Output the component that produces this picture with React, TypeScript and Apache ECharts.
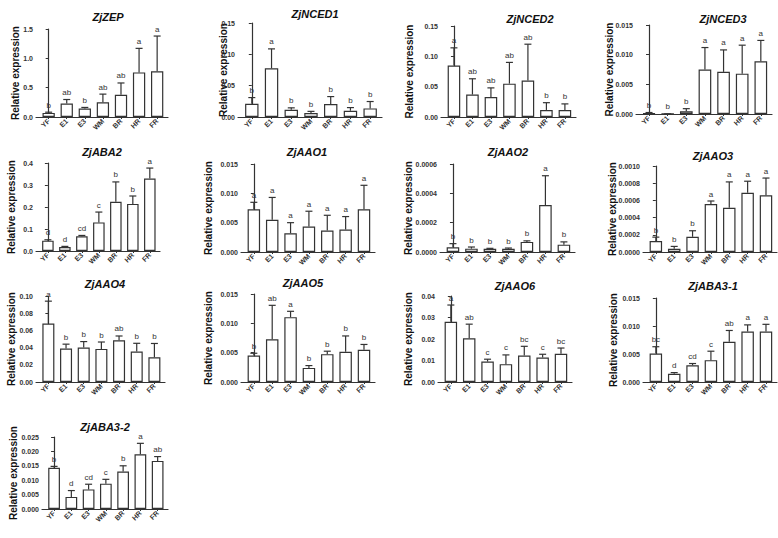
import React, { useEffect, useRef } from "react";
import * as echarts from "echarts";

const categories = ["YF", "E1", "E3", "WM", "BR", "HR", "FR"];

const genes = [
  "ZjZEP", "ZjNCED1", "ZjNCED2", "ZjNCED3",
  "ZjABA2", "ZjAAO1", "ZjAAO2", "ZjAAO3",
  "ZjAAO4", "ZjAAO5", "ZjAAO6", "ZjABA3-1",
  "ZjABA3-2",
];

const zepMean = [0.07, 0.228, 0.143, 0.25, 0.38, 0.76, 0.78];
const zepErr = [0.012, 0.07, 0.02, 0.14, 0.2, 0.41, 0.6];
const zepSig = ["b", "ab", "b", "ab", "ab", "a", "a"];

const nced1Mean = [0.021, 0.0777, 0.0116, 0.0063, 0.0206, 0.01, 0.0137];
const nced1Err = [0.01, 0.031, 0.003, 0.0027, 0.012, 0.005, 0.011];
const nced1Sig = ["b", "a", "b", "b", "b", "b", "b"];

const nced2Mean = [0.085, 0.037, 0.033, 0.055, 0.06, 0.0116, 0.0116];
const nced2Err = [0.029, 0.026, 0.015, 0.035, 0.06, 0.012, 0.01];
const nced2Sig = ["a", "ab", "ab", "ab", "ab", "b", "b"];

const nced3Mean = [0.0001, 0.00003, 0.00045, 0.0075, 0.0071, 0.0068, 0.0089];
const nced3Err = [0.00015, 0, 0.00045, 0.0037, 0.0037, 0.0048, 0.0035];
const nced3Sig = ["b", "b", "b", "a", "a", "a", "a"];

const aba2Mean = [0.047, 0.018, 0.0667, 0.13, 0.224, 0.214, 0.329];
const aba2Err = [0.004, 0.003, 0.004, 0.047, 0.09, 0.036, 0.048];
const aba2Sig = ["d", "d", "cd", "c", "b", "b", "a"];

const aao1Mean = [0.00727, 0.0055, 0.0032, 0.00435, 0.00366, 0.00384, 0.00727];
const aao1Err = [0.0012, 0.0038, 0.0018, 0.0026, 0.0026, 0.0022, 0.0041];
const aao1Sig = ["a", "a", "a", "a", "a", "a", "a"];

const aao2Mean = [0.000032, 0.000023, 0.000022, 0.000022, 0.000069, 0.00032, 0.00005];
const aao2Err = [0.000025, 0.000011, 0.000003, 0.000005, 0.000007, 0.0002, 0.000019];
const aao2Sig = ["b", "b", "b", "b", "b", "a", "b"];

const aao3Mean = [0.000127, 0.000038, 0.000177, 0.000558, 0.000515, 0.000688, 0.00066];
const aao3Err = [0.000046, 0.000027, 0.00007, 0.000035, 0.0003, 0.000135, 0.0002];
const aao3Sig = ["b", "b", "b", "a", "a", "a", "a"];

const aao4Mean = [0.068, 0.039, 0.04, 0.0385, 0.0485, 0.0354, 0.0288];
const aao4Err = [0.026, 0.005, 0.007, 0.008, 0.005, 0.0096, 0.016];
const aao4Sig = ["a", "b", "b", "b", "ab", "b", "b"];

const aao5Mean = [0.0045, 0.00727, 0.01105, 0.0024, 0.00475, 0.00515, 0.0055];
const aao5Err = [0.0004, 0.0058, 0.001, 0.0004, 0.0005, 0.0027, 0.0009];
const aao5Sig = ["b", "ab", "a", "b", "b", "b", "b"];

const aao6Mean = [0.028, 0.0203, 0.0095, 0.0083, 0.0123, 0.0114, 0.0131];
const aao6Err = [0.0078, 0.0066, 0.0011, 0.0043, 0.0043, 0.0015, 0.0027];
const aao6Sig = ["a", "ab", "c", "c", "bc", "c", "bc"];

const aba31Mean = [0.0051, 0.00148, 0.003, 0.0039, 0.0072, 0.009, 0.009];
const aba31Err = [0.0012, 0.0002, 0.0003, 0.0016, 0.002, 0.0012, 0.0013];
const aba31Sig = ["bc", "d", "cd", "c", "ab", "a", "a"];

const aba32Mean = [0.0143, 0.0042, 0.0068, 0.0088, 0.013, 0.019, 0.0167];
const aba32Err = [0.0005, 0.0022, 0.0018, 0.0015, 0.002, 0.0038, 0.0015];
const aba32Sig = ["b", "d", "cd", "c", "b", "a", "ab"];

const yMaxes = [1.5, 0.15, 0.15, 0.015, 0.4, 0.015, 0.0006, 0.001, 0.1, 0.015, 0.04, 0.015, 0.025];
const yIntervals = [0.5, 0.05, 0.05, 0.005, 0.1, 0.005, 0.0002, 0.0002, 0.02, 0.005, 0.01, 0.005, 0.005];
const yDecimals = [1, 2, 2, 3, 1, 3, 4, 4, 2, 3, 2, 3, 3];

const means = [zepMean, nced1Mean, nced2Mean, nced3Mean, aba2Mean, aao1Mean, aao2Mean, aao3Mean, aao4Mean, aao5Mean, aao6Mean, aba31Mean, aba32Mean];
const errs = [zepErr, nced1Err, nced2Err, nced3Err, aba2Err, aao1Err, aao2Err, aao3Err, aao4Err, aao5Err, aao6Err, aba31Err, aba32Err];
const sigs = [zepSig, nced1Sig, nced2Sig, nced3Sig, aba2Sig, aao1Sig, aao2Sig, aao3Sig, aao4Sig, aao5Sig, aao6Sig, aba31Sig, aba32Sig];

// layout: [axisX, endX, topY, zeroY, titleX, titleY, nameGap]
const layouts = [
  [36, 168, 29, 117, 103, 6, 16],
  [238, 382, 23, 117, 310, 3, 10],
  [441, 576, 26, 117, 525, 8, 27],
  [636, 772, 25, 114, 718, 8, 22],
  [36, 160, 163, 251, 97, 141, 20],
  [241, 375, 164, 252, 302, 141, 28],
  [440, 575, 164, 252, 503, 141, 27],
  [643, 777, 166, 252, 708, 145, 26],
  [36, 165, 296, 382, 100, 273, 20],
  [241, 375, 294, 382, 298, 272, 28],
  [438, 572, 296, 382, 510, 275, 25],
  [643, 777, 298, 382, 708, 275, 25],
  [42, 168, 437, 509, 100, 416, 24],
];

const FONT = '"Liberation Sans", Arial, sans-serif';
const INK = "#333";
const X_MIN = -0.7;
const X_MAX = 6.6;

function buildOption() {
  const grid: any[] = [];
  const xAxis: any[] = [];
  const yAxis: any[] = [];
  const series: any[] = [];
  const title: any[] = [];
  genes.forEach((g, k) => {
    const [ax, ex, ty, zy, tx, tyy, ng] = layouts[k];
    const w = ex - ax;
    const band = w / (X_MAX - X_MIN);
    const barW = band * 0.68;
    grid.push({ left: ax, top: ty, width: w, height: zy - ty, containLabel: false, outerBoundsMode: "none" });
    title.push({
      text: g,
      left: tx,
      top: tyy,
      textAlign: "center",
      textStyle: { fontFamily: FONT, fontSize: 11, fontWeight: "bold", fontStyle: "italic", color: "#111" },
    });
    const dec = yDecimals[k];
    xAxis.push({
      type: "value",
      gridIndex: k,
      min: X_MIN,
      max: X_MAX,
      splitLine: { show: false },
      axisLine: { show: true, onZero: false, lineStyle: { color: INK, width: 1.2 } },
      axisTick: { show: true, length: 2, customValues: [0, 1, 2, 3, 4, 5, 6], lineStyle: { color: INK, width: 1 } },
      axisLabel: {
        customValues: [0, 1, 2, 3, 4, 5, 6],
        formatter: (v: number) => categories[Math.round(v)] ?? "",
        rotate: 45,
        margin: 3,
        fontFamily: FONT,
        fontSize: 7,
        fontWeight: "bold",
        color: INK,
      },
    });
    yAxis.push({
      type: "value",
      gridIndex: k,
      min: 0,
      max: yMaxes[k],
      interval: yIntervals[k],
      name: "Relative expression",
      nameLocation: "middle",
      nameGap: ng,
      nameMoveOverlap: false,
      nameTextStyle: { fontFamily: FONT, fontSize: 10, fontWeight: "bold", color: "#111" },
      splitLine: { show: false },
      axisLine: { show: true, lineStyle: { color: INK, width: 1.2 } },
      axisTick: { show: true, length: 3, lineStyle: { color: INK, width: 1 } },
      axisLabel: {
        formatter: (v: number) => v.toFixed(dec),
        margin: 3,
        fontFamily: FONT,
        fontSize: 7,
        fontWeight: "bold",
        color: INK,
      },
    });
    const m = means[k];
    const e = errs[k];
    const s = sigs[k];
    series.push({
      type: "bar",
      xAxisIndex: k,
      yAxisIndex: k,
      barWidth: barW,
      data: m.map((v, i) => [i, v]),
      itemStyle: { color: "#fff", borderColor: INK, borderWidth: 1.2 },
      silent: true,
    });
    series.push({
      type: "custom",
      xAxisIndex: k,
      yAxisIndex: k,
      data: m.map((v, i) => [i, v, e[i]]),
      encode: { x: 0, y: 1 },
      clip: false,
      z: 5,
      silent: true,
      renderItem: (params: any, api: any) => {
        const xi = api.value(0);
        const v = api.value(1);
        const er = api.value(2);
        const base = api.coord([xi, v]);
        const top = api.coord([xi, v + er]);
        const capW = 3.5;
        return {
          type: "group",
          children: [
            { type: "line", shape: { x1: base[0], y1: base[1], x2: top[0], y2: top[1] }, style: { stroke: INK, lineWidth: 1.2 } },
            { type: "line", shape: { x1: top[0] - capW, y1: top[1], x2: top[0] + capW, y2: top[1] }, style: { stroke: INK, lineWidth: 1.2 } },
            {
              type: "text",
              x: top[0],
              y: top[1] - 3,
              style: {
                text: s[params.dataIndex],
                fill: "#333",
                fontFamily: FONT,
                fontSize: 8,
                align: "center",
                verticalAlign: "bottom",
              },
            },
          ],
        };
      },
    });
  });
  return {
    animation: false,
    backgroundColor: "#fff",
    title,
    grid,
    xAxis,
    yAxis,
    series,
  };
}

export default function App() {
  const ref = useRef<HTMLDivElement>(null);
  useEffect(() => {
    if (!ref.current) return;
    const chart = echarts.init(ref.current, undefined, { renderer: "svg" });
    chart.setOption(buildOption() as any);
    return () => chart.dispose();
  }, []);
  return (
    <div
      ref={ref}
      style={{ position: "absolute", left: 0, top: 0, width: 778, height: 538, background: "#fff" }}
    />
  );
}
